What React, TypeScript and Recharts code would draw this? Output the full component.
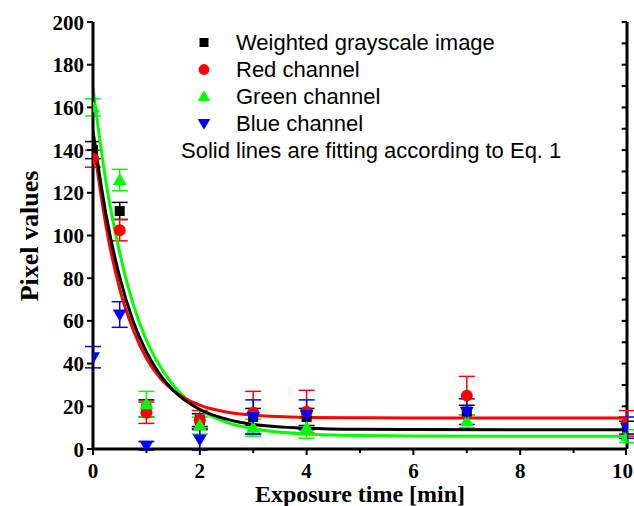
import { ComposedChart, Scatter, Line, XAxis, YAxis, ErrorBar, Legend, ReferenceLine } from 'recharts'

// measured points (exposure time in minutes)
const times = [0, 0.5, 1, 2, 3, 4, 7, 10]
const grayVals = [140, 111.5, 19, 13.5, 15, 15, 17.5, 10]
const grayErr = [4, 4, 4, 3, 4, 4, 3, 3]
const redVals = [136, 102.5, 17, 13.5, 17, 17.5, 25, 12]
const redErr = [4, 5, 5, 4.5, 10, 10, 9, 6]
const greenVals = [160, 126, 21, 11, 10, 10, 13, 6]
const greenErr = [4, 5, 6, 4, 4, 5, 3, 3]
const blueVals = [43, 63, 1.5, 4.5, 15, 16, 17.5, 10]
const blueErr = [5, 6, 2, 5, 8, 7, 6, 5]

// fitted curves
const fitTimes = [0, 0.25, 0.5, 0.75, 1, 1.25, 1.5, 2, 2.5, 3, 4, 5, 6, 8, 10]
const grayFit = [149, 109, 80.5, 60, 45.5, 35, 27.5, 18.5, 14, 11.5, 9.7, 9.2, 9.1, 9, 9]
const redFit = [145, 103.5, 75, 56, 42.5, 33.5, 27.5, 20.5, 17.3, 15.8, 14.8, 14.6, 14.5, 14.5, 14.5]
const greenFit = [169, 124, 92, 68, 51, 39, 30, 18.5, 12.5, 9.5, 7, 6.3, 6.1, 6, 6]

const xTicks = [0, 1, 2, 3, 4, 5, 6, 7, 8, 9, 10]
const yTicks = [0, 10, 20, 30, 40, 50, 60, 70, 80, 90, 100, 110, 120, 130, 140, 150, 160, 170, 180, 190, 200]

const legendItems = [
  { name: 'Weighted grayscale image', color: '#000000', shape: 'square' },
  { name: 'Red channel', color: '#ff0000', shape: 'circle' },
  { name: 'Green channel', color: '#00ff00', shape: 'triangle' },
  { name: 'Blue channel', color: '#0000ff', shape: 'down' },
]

const serif = '"Liberation Serif", "Times New Roman", serif'
const sans = '"Liberation Sans", Arial, sans-serif'

const toPoints = (vals: number[], errs: number[]) => times.map((t, i) => ({ x: t, y: vals[i], err: errs[i] }))
const toFit = (vals: number[]) => fitTimes.map((t, i) => ({ x: t, y: vals[i] }))

function Marker({ cx, cy, shape, color, s = 1 }: { cx: number; cy: number; shape: string; color: string; s?: number }) {
  if (shape === 'square') return <rect x={cx - 5 * s} y={cy - 5 * s} width={10 * s} height={10 * s} fill={color} />
  if (shape === 'circle') return <circle cx={cx} cy={cy} r={6 * s} fill={color} />
  if (shape === 'triangle')
    return <path d={`M${cx},${cy - 7 * s} L${cx + 7 * s},${cy + 5 * s} L${cx - 7 * s},${cy + 5 * s} Z`} fill={color} />
  return <path d={`M${cx},${cy + 7 * s} L${cx + 7 * s},${cy - 5 * s} L${cx - 7 * s},${cy - 5 * s} Z`} fill={color} />
}

const shapeFor = (shape: string, color: string) => (p: any) => <Marker cx={p.cx} cy={p.cy} shape={shape} color={color} />

function BottomTick({ x, y, payload }: any) {
  const major = payload.value % 2 === 0
  const last = payload.value === 10
  return (
    <g>
      <line x1={x} x2={x} y1={y} y2={y + (major ? 6 : 4)} stroke="#000" strokeWidth={2} />
      {major && (
        <text
          x={last ? 633 : x}
          y={y + 29}
          textAnchor={last ? 'end' : 'middle'}
          fontFamily={serif}
          fontWeight="bold"
          fontSize={21}
          fill="#000"
        >
          {payload.value}
        </text>
      )}
    </g>
  )
}

function LeftTick({ x, y, payload }: any) {
  const major = payload.value % 20 === 0
  return (
    <g>
      <line x1={x} x2={x - (major ? 6 : 3)} y1={y} y2={y} stroke="#000" strokeWidth={2} />
      {major && (
        <text x={x - 9} y={y + 7.5} textAnchor="end" fontFamily={serif} fontWeight="bold" fontSize={21} fill="#000">
          {payload.value}
        </text>
      )}
    </g>
  )
}

function TopTick({ x, y }: any) {
  return <line x1={x} x2={x} y1={y} y2={y + 4} stroke="#000" strokeWidth={2} />
}

function LegendBox() {
  return (
    <div style={{ fontFamily: sans, fontSize: 22, color: '#000', position: 'relative', width: 440 }}>
      {legendItems.map((it) => (
        <div key={it.name} style={{ position: 'relative', height: 27, lineHeight: '27px' }}>
          <svg width={24} height={27} style={{ position: 'absolute', left: 22, top: 0 }}>
            <Marker cx={12} cy={13.5} shape={it.shape} color={it.color} s={0.9} />
          </svg>
          <span style={{ position: 'absolute', left: 66, top: 0, whiteSpace: 'nowrap' }}>{it.name}</span>
        </div>
      ))}
      <div style={{ position: 'relative', height: 27, lineHeight: '27px' }}>
        <span style={{ position: 'absolute', left: 11, top: 0, whiteSpace: 'nowrap' }}>
          Solid lines are fitting according to Eq. 1
        </span>
      </div>
    </div>
  )
}

export default function App() {
  const axisLine = { stroke: '#000', strokeWidth: 3 }
  return (
    <div style={{ position: 'absolute', left: 0, top: 0, background: '#fff' }}>
      <ComposedChart width={634} height={506} margin={{ top: 22, right: 7, bottom: 7, left: 33 }}>
        <XAxis
          dataKey="x"
          type="number"
          domain={[0, 10]}
          ticks={xTicks}
          height={50}
          tickSize={0}
          tickMargin={0}
          tick={BottomTick}
          axisLine={axisLine}
          allowDataOverflow
          label={{
            content: () => (
              <text x={360} y={502} textAnchor="middle" fontFamily={serif} fontWeight="bold" fontSize={24} fill="#000">
                Exposure time [min]
              </text>
            ),
          }}
        />
        <XAxis
          xAxisId="top"
          orientation="top"
          dataKey="x"
          type="number"
          domain={[0, 10]}
          ticks={xTicks}
          mirror
          height={0}
          tickSize={0}
          tickMargin={0}
          tick={TopTick}
          axisLine={axisLine}
          allowDataOverflow
        />
        <YAxis
          type="number"
          domain={[0, 200]}
          ticks={yTicks}
          width={60}
          tickSize={0}
          tickMargin={0}
          tick={LeftTick}
          axisLine={axisLine}
          allowDataOverflow
          label={{
            content: () => (
              <text
                x={29}
                y={236}
                transform="rotate(-90 29 236)"
                textAnchor="middle"
                dominantBaseline="central"
                fontFamily={serif}
                fontWeight="bold"
                fontSize={26}
                fill="#000"
              >
                Pixel values
              </text>
            ),
          }}
        />
        {/* right frame and its inward ticks */}
        <ReferenceLine x={10} stroke="#000" strokeWidth={3} ifOverflow="visible" />
        {yTicks.map((t) => (
          <ReferenceLine
            key={`rt${t}`}
            segment={[
              { x: 9.9, y: t },
              { x: 10, y: t },
            ]}
            stroke="#000"
            strokeWidth={2}
            ifOverflow="visible"
          />
        ))}
        <Legend
          layout="vertical"
          align="center"
          verticalAlign="middle"
          content={() => <LegendBox />}
          wrapperStyle={{ top: 29, left: 170, width: 440 }}
        />
        <Scatter name="Weighted grayscale image" data={toPoints(grayVals, grayErr)} dataKey="y" shape={shapeFor('square', '#000000')} isAnimationActive={false}>
          <ErrorBar dataKey="err" direction="y" width={8} stroke="#000000" strokeWidth={1.5} isAnimationActive={false} />
        </Scatter>
        <Scatter name="Red channel" data={toPoints(redVals, redErr)} dataKey="y" shape={shapeFor('circle', '#ff0000')} isAnimationActive={false}>
          <ErrorBar dataKey="err" direction="y" width={8} stroke="#ff0000" strokeWidth={1.5} isAnimationActive={false} />
        </Scatter>
        <Scatter name="Green channel" data={toPoints(greenVals, greenErr)} dataKey="y" shape={shapeFor('triangle', '#00ff00')} isAnimationActive={false}>
          <ErrorBar dataKey="err" direction="y" width={8} stroke="#00ff00" strokeWidth={1.5} isAnimationActive={false} />
        </Scatter>
        <Scatter name="Blue channel" data={toPoints(blueVals, blueErr)} dataKey="y" shape={shapeFor('down', '#0000ff')} isAnimationActive={false}>
          <ErrorBar dataKey="err" direction="y" width={8} stroke="#0000ff" strokeWidth={1.5} isAnimationActive={false} />
        </Scatter>
        <Line data={toFit(greenFit)} dataKey="y" type="monotone" stroke="#00ff00" strokeWidth={3} dot={false} legendType="none" isAnimationActive={false} />
        <Line data={toFit(redFit)} dataKey="y" type="monotone" stroke="#ff0000" strokeWidth={3} dot={false} legendType="none" isAnimationActive={false} />
        <Line xAxisId="top" data={toFit(grayFit)} dataKey="y" type="monotone" stroke="#000000" strokeWidth={3} dot={false} legendType="none" isAnimationActive={false} />
      </ComposedChart>
    </div>
  )
}
